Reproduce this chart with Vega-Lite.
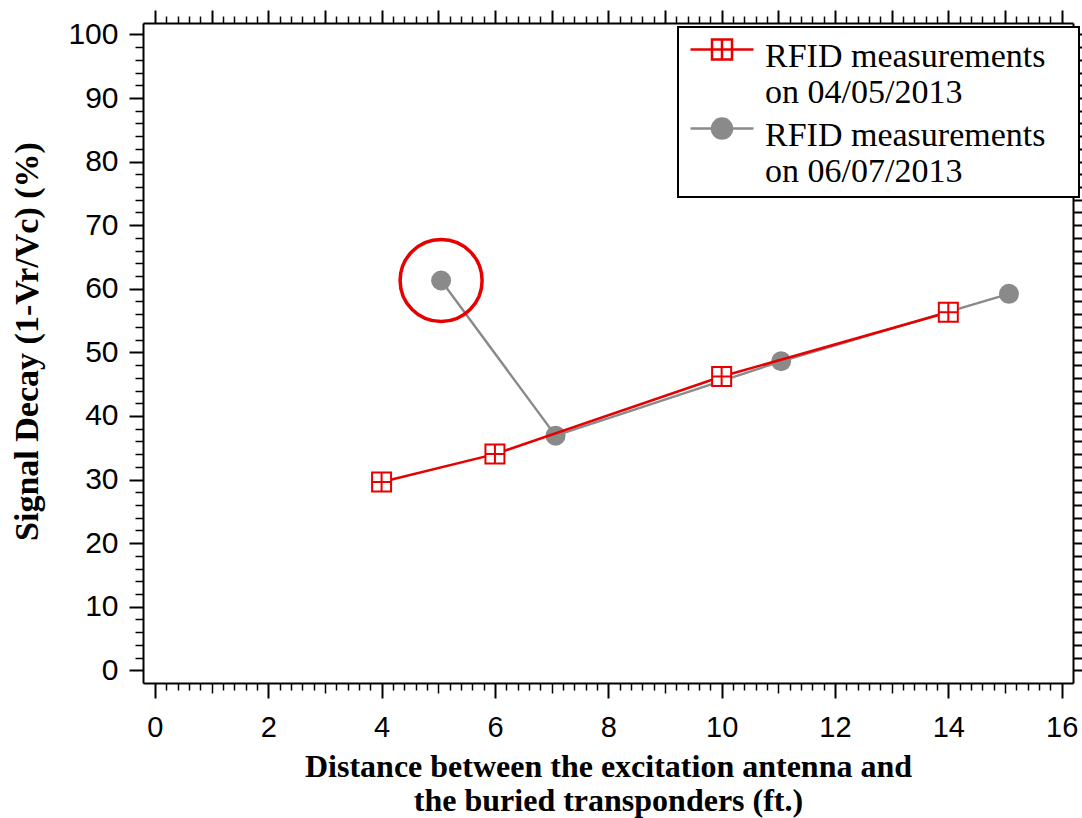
{
  "$schema": "https://vega.github.io/schema/vega-lite/v6.json",
  "autosize": {"type": "none"},
  "padding": {"left": 143, "top": 23, "right": 9, "bottom": 135},
  "width": 930,
  "height": 660,
  "background": "white",
  "config": {
    "view": {"stroke": null},
    "axis": {"grid": false, "domainColor": "black", "tickColor": "black", "labelColor": "black", "titleColor": "black"}
  },
  "datasets": {
    "decay": [
      {"series": "RFID measurements on 04/05/2013", "distance": 4, "decay": 29.6},
      {"series": "RFID measurements on 04/05/2013", "distance": 6, "decay": 34.0},
      {"series": "RFID measurements on 04/05/2013", "distance": 10, "decay": 46.2},
      {"series": "RFID measurements on 04/05/2013", "distance": 14, "decay": 56.3},
      {"series": "RFID measurements on 06/07/2013", "distance": 5.05, "decay": 61.3},
      {"series": "RFID measurements on 06/07/2013", "distance": 7.07, "decay": 36.9},
      {"series": "RFID measurements on 06/07/2013", "distance": 11.05, "decay": 48.6},
      {"series": "RFID measurements on 06/07/2013", "distance": 15.07, "decay": 59.2}
    ]
  },
  "data": {"name": "decay"},
  "resolve": {"axis": {"x": "independent", "y": "independent"}},
  "layer": [
    {
      "transform": [{"filter": "datum.series === 'RFID measurements on 06/07/2013'"}],
      "mark": {"type": "line", "strokeWidth": 2.4},
      "encoding": {
        "x": {
          "field": "distance", "type": "quantitative",
          "scale": {"domain": [-0.21, 16.2], "nice": false, "zero": false},
          "axis": {
            "orient": "bottom", "values": [0, 2, 4, 6, 8, 10, 12, 14, 16],
            "tickSize": 15, "tickWidth": 2, "domainWidth": 2,
            "labelFont": "Liberation Sans", "labelFontSize": 29, "labelPadding": 15,
            "labelFlush": false, "labelOverlap": false,
            "title": ["Distance between the excitation antenna and", "the buried transponders (ft.)"],
            "titleFont": "Liberation Serif", "titleFontWeight": "bold", "titleFontSize": 32,
            "titleLineHeight": 34, "titlePadding": 9
          }
        },
        "y": {
          "field": "decay", "type": "quantitative",
          "scale": {"domain": [-2, 101.8], "nice": false, "zero": false},
          "axis": {
            "orient": "left", "values": [0, 10, 20, 30, 40, 50, 60, 70, 80, 90, 100],
            "tickSize": 14, "tickWidth": 2, "domainWidth": 2,
            "labelFont": "Liberation Sans", "labelFontSize": 30, "labelPadding": 11,
            "labelOverlap": false,
            "title": "Signal Decay (1-Vr/Vc) (%)",
            "titleFont": "Liberation Serif", "titleFontWeight": "bold", "titleFontSize": 34,
            "titleX": -106, "titleY": 318, "titleBaseline": "alphabetic", "titleAngle": 270
          }
        },
        "color": {
          "field": "series", "type": "nominal",
          "scale": {"domain": ["RFID measurements on 04/05/2013", "RFID measurements on 06/07/2013"], "range": ["#e60000", "#8a8a8a"]},
          "legend": {
            "title": null, "orient": "none", "legendX": 535, "legendY": 4, "direction": "vertical",
            "strokeColor": "black", "fillColor": "white", "padding": 8, "cornerRadius": 0,
            "symbolSize": 400, "symbolOffset": 19, "labelOffset": 26, "symbolStrokeWidth": 2.5,
            "labelFont": "Liberation Serif", "labelFontSize": 34, "labelColor": "black", "labelLimit": 0,
            "labelBaseline": "alphabetic",
            "labelExpr": "['RFID measurements\u2800', slice(datum.label, 18)]",
            "rowPadding": 3,
            "encode": {
              "legend": {"update": {"strokeWidth": {"value": 2}}},
              "symbols": {"update": {
                "shape": {"signal": "datum.index === 0 ? 'M-3.15,-0.24H-1M1,-0.24H3.15M-1,-1.24H1V0.76H-1ZM0,-1.24V0.76M-1,-0.24H1' : 'M-3.15,-0.24H3.15M-1,-0.24A1,1 0 1,1 1,-0.24A1,1 0 1,1 -1,-0.24Z'"},
                "fill": {"signal": "datum.index === 0 ? 'white' : '#8a8a8a'"},
                "stroke": {"signal": "datum.index === 0 ? '#e60000' : '#8a8a8a'"},
                "strokeWidth": {"value": 2.5},
                "opacity": {"value": 1}
              }},
              "labels": {"update": {"dy": {"value": 15}, "lineHeight": {"value": 36}}}
            }
          }
        }
      }
    },
    {
      "transform": [{"filter": "datum.series === 'RFID measurements on 06/07/2013'"}],
      "mark": {"type": "point", "shape": "circle", "filled": true, "color": "#8a8a8a", "size": 400, "opacity": 1},
      "encoding": {
        "x": {
          "field": "distance", "type": "quantitative",
          "axis": {
            "orient": "bottom",
            "values": [0.2,0.4,0.6,0.8,1.2,1.4,1.6,1.8,2.2,2.4,2.6,2.8,3.2,3.4,3.6,3.8,4.2,4.4,4.6,4.8,5.2,5.4,5.6,5.8,6.2,6.4,6.6,6.8,7.2,7.4,7.6,7.8,8.2,8.4,8.6,8.8,9.2,9.4,9.6,9.8,10.2,10.4,10.6,10.8,11.2,11.4,11.6,11.8,12.2,12.4,12.6,12.8,13.2,13.4,13.6,13.8,14.2,14.4,14.6,14.8,15.2,15.4,15.6,15.8],
            "tickSize": 7, "tickWidth": 1.5, "domain": false, "labels": false, "title": null
          }
        },
        "y": {
          "field": "decay", "type": "quantitative",
          "axis": {
            "orient": "left",
            "values": [2,4,6,8,12,14,16,18,22,24,26,28,32,34,36,38,42,44,46,48,52,54,56,58,62,64,66,68,72,74,76,78,82,84,86,88,92,94,96,98],
            "tickSize": 8, "tickWidth": 1.5, "domain": false, "labels": false, "title": null
          }
        }
      }
    },
    {
      "transform": [{"filter": "datum.series === 'RFID measurements on 04/05/2013'"}],
      "mark": {"type": "line", "strokeWidth": 2.5, "color": "#e60000"},
      "encoding": {
        "x": {
          "field": "distance", "type": "quantitative",
          "axis": {
            "orient": "top", "values": [0,1,2,3,4,5,6,7,8,9,10,11,12,13,14,15,16],
            "tickSize": 13, "tickWidth": 2, "domainWidth": 2, "labels": false, "title": null
          }
        },
        "y": {
          "field": "decay", "type": "quantitative",
          "axis": {
            "orient": "right",
            "values": [0,2,4,6,8,10,12,14,16,18,20,22,24,26,28,30,32,34,36,38,40,42,44,46,48,50,52,54,56,58,60,62,64,66,68,70,72,74,76,78,80,82,84,86,88,90,92,94,96,98,100],
            "tickSize": 10, "tickWidth": 2, "domainWidth": 2, "labels": false, "title": null
          }
        }
      }
    },
    {
      "transform": [{"filter": "datum.series === 'RFID measurements on 04/05/2013'"}],
      "mark": {"type": "point", "shape": "M-1,-1H1V1H-1ZM0,-1V1M-1,0H1", "filled": false, "fill": "white", "stroke": "#e60000", "strokeWidth": 2, "size": 361, "opacity": 1},
      "encoding": {
        "x": {
          "field": "distance", "type": "quantitative",
          "axis": {
            "orient": "top",
            "values": [0.2,0.4,0.6,0.8,1.2,1.4,1.6,1.8,2.2,2.4,2.6,2.8,3.2,3.4,3.6,3.8,4.2,4.4,4.6,4.8,5.2,5.4,5.6,5.8,6.2,6.4,6.6,6.8,7.2,7.4,7.6,7.8,8.2,8.4,8.6,8.8,9.2,9.4,9.6,9.8,10.2,10.4,10.6,10.8,11.2,11.4,11.6,11.8,12.2,12.4,12.6,12.8,13.2,13.4,13.6,13.8,14.2,14.4,14.6,14.8,15.2,15.4,15.6,15.8],
            "tickSize": 7, "tickWidth": 1.5, "domain": false, "labels": false, "title": null
          }
        },
        "y": {"field": "decay", "type": "quantitative", "axis": null}
      }
    },
    {
      "transform": [{"filter": "datum.series === 'RFID measurements on 06/07/2013' && datum.decay > 60"}],
      "mark": {"type": "point", "shape": "circle", "filled": false, "stroke": "#e60000", "strokeWidth": 3.5, "size": 6724, "opacity": 1},
      "encoding": {
        "x": {
          "field": "distance", "type": "quantitative",
          "axis": {
            "orient": "bottom", "values": [1,3,5,7,9,11,13,15],
            "tickSize": 10, "tickWidth": 1.5, "domain": false, "labels": false, "title": null
          }
        },
        "y": {"field": "decay", "type": "quantitative", "axis": null}
      }
    }
  ]
}
